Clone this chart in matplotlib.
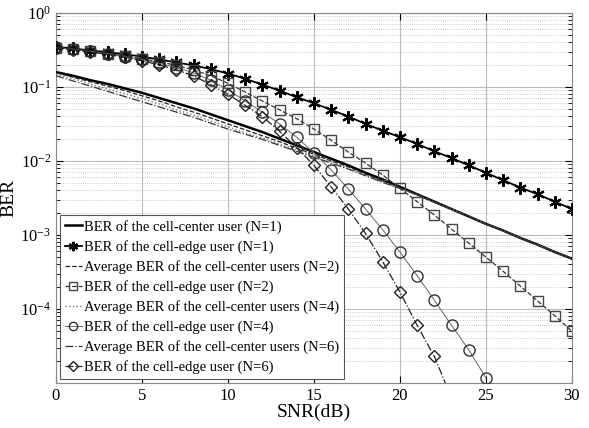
import numpy as np
import matplotlib
matplotlib.use("Agg")
import matplotlib.pyplot as plt
from matplotlib.ticker import LogLocator, NullFormatter

plt.rcParams['font.family'] = ['Liberation Serif', 'DejaVu Serif']
plt.rcParams['mathtext.fontset'] = 'custom'
plt.rcParams['mathtext.rm'] = 'Liberation Serif'
plt.rcParams['mathtext.it'] = 'Liberation Serif:italic'

snr = list(range(0, 31))

# log10(BER)
center_n1 = [-0.80, -0.85, -0.91, -0.96, -1.02, -1.08, -1.15, -1.22, -1.29, -1.37, -1.45,
             -1.53, -1.61, -1.70, -1.79, -1.88, -1.97, -2.06, -2.16, -2.25, -2.35,
             -2.45, -2.55, -2.65, -2.75, -2.85, -2.94, -3.04, -3.13, -3.23, -3.32]
edge_n1 = [-0.46, -0.48, -0.51, -0.53, -0.56, -0.59, -0.63, -0.67, -0.71, -0.76, -0.82,
           -0.89, -0.97, -1.05, -1.14, -1.22, -1.31, -1.40, -1.50, -1.59, -1.68,
           -1.77, -1.87, -1.96, -2.06, -2.16, -2.26, -2.36, -2.45, -2.55, -2.65]
center_n2 = [-0.81, -0.87, -0.93, -0.99, -1.05, -1.12, -1.19, -1.27, -1.34, -1.42, -1.50,
             -1.58, -1.66, -1.74, -1.83, -1.91, -2.00, -2.08, -2.18, -2.27, -2.36,
             -2.45, -2.55, -2.65, -2.75, -2.85, -2.94, -3.04, -3.13, -3.23, -3.32]
edge_n2 = [-0.47, -0.49, -0.52, -0.55, -0.58, -0.62, -0.66, -0.71, -0.77, -0.85, -0.95,
           -1.07, -1.19, -1.31, -1.43, -1.57, -1.72, -1.88, -2.03, -2.19, -2.37,
           -2.55, -2.73, -2.92, -3.11, -3.30, -3.49, -3.69, -3.89, -4.09, -4.30]
center_n4 = [-0.83, -0.89, -0.96, -1.03, -1.09, -1.16, -1.23, -1.31, -1.38, -1.46, -1.54,
             -1.62, -1.69, -1.77, -1.85, -1.93, -2.01, -2.10, -2.19, -2.28, -2.37,
             -2.46, -2.56, -2.65, -2.75, -2.85, -2.94, -3.04, -3.13, -3.23, -3.32]
edge_n4 = [-0.47, -0.49, -0.52, -0.55, -0.59, -0.63, -0.68, -0.74, -0.81, -0.91, -1.04,
           -1.19, -1.34, -1.50, -1.68, -1.89, -2.12, -2.38, -2.65, -2.93, -3.23,
           -3.55, -3.88, -4.22, -4.55, -4.93]
center_n6 = [-0.85, -0.92, -0.99, -1.06, -1.13, -1.20, -1.27, -1.34, -1.41, -1.49, -1.57,
             -1.64, -1.71, -1.79, -1.87, -1.95, -2.03, -2.11, -2.20, -2.29, -2.37,
             -2.46, -2.56, -2.65, -2.75, -2.85, -2.94, -3.04, -3.13, -3.23, -3.32]
edge_n6 = [-0.47, -0.50, -0.53, -0.56, -0.60, -0.65, -0.70, -0.77, -0.85, -0.97, -1.10,
           -1.25, -1.40, -1.60, -1.82, -2.06, -2.35, -2.65, -2.98, -3.36, -3.77,
           -4.22, -4.64, -5.20]

labels = ["BER of the cell-center user (N=1)",
          "BER of the cell-edge user (N=1)",
          "Average BER of the cell-center users (N=2)",
          "BER of the cell-edge user (N=2)",
          "Average BER of the cell-center users (N=4)",
          "BER of the cell-edge user (N=4)",
          "Average BER of the cell-center users (N=6)",
          "BER of the cell-edge user (N=6)"]

def ber(v):
    return [10.0 ** e for e in v]

fig = plt.figure(figsize=(5.89, 4.28), dpi=100)
ax = fig.add_axes([0.095, 0.105, 0.876, 0.865])

ax.semilogy(snr, ber(center_n1), '-', color='black', lw=1.8, label=labels[0], zorder=3)
ax.semilogy(snr, ber(edge_n1), '-', color='black', lw=1.3, marker=(6, 2, 0), ms=9,
            mew=1.5, label=labels[1], zorder=4)
ax.semilogy(snr, ber(center_n2), '--', color='#222222', lw=0.9, label=labels[2], zorder=3)
ax.semilogy(snr[:len(edge_n2)], ber(edge_n2), '--', color='#333333', lw=0.9, marker='s', ms=7,
            mfc='none', mec='#444444', mew=1.0, label=labels[3], zorder=4)
ax.semilogy(snr, ber(center_n4), ':', color='#777777', lw=1.0, label=labels[4], zorder=3)
ax.semilogy(snr[:len(edge_n4)], ber(edge_n4), '-', color='#666666', lw=0.7, marker='o', ms=8,
            mfc='none', mec='#333333', mew=1.0, label=labels[5], zorder=4)
ax.semilogy(snr, ber(center_n6), '-.', color='#333333', lw=0.9, label=labels[6], zorder=3)
ax.semilogy(snr[:len(edge_n6)], ber(edge_n6), '-.', color='#222222', lw=0.9, marker='D', ms=6.5,
            mfc='none', mec='#222222', mew=1.0, label=labels[7], zorder=4)

ax.set_xlim(0, 30)
ax.set_ylim(1e-5, 1)
ax.set_xticks([0, 5, 10, 15, 20, 25, 30])
ax.set_yticks([1e-4, 1e-3, 1e-2, 1e-1, 1])
ax.set_yticklabels([r'$10^{-4}$', r'$10^{-3}$', r'$10^{-2}$', r'$10^{-1}$', r'$10^{0}$'])
ax.yaxis.set_minor_locator(LogLocator(base=10, subs=np.arange(2, 10), numticks=20))
ax.yaxis.set_minor_formatter(NullFormatter())
ax.tick_params(which='both', direction='in', top=True, right=True, labelsize=12)
ax.tick_params(which='major', length=5)
ax.tick_params(which='minor', length=3)

ax.grid(True, which='major', color='#bbbbbb', lw=0.8, ls='-')
ax.grid(True, which='minor', axis='y', color='#bbbbbb', lw=0.6, ls=':')
for s in ax.spines.values():
    s.set_color('#888888')

ax.set_xlabel('SNR(dB)', fontsize=14, labelpad=0)
ax.set_ylabel('BER', fontsize=14, labelpad=2)

leg = ax.legend(loc='lower left', fontsize=10.5, handlelength=1.2, handletextpad=0.15,
                borderpad=0.3, labelspacing=0.42, borderaxespad=0.3, fancybox=False,
                framealpha=1, edgecolor='#555555', markerscale=0.75)
leg.get_frame().set_linewidth(0.8)

fig.savefig('out.png', dpi=100)
